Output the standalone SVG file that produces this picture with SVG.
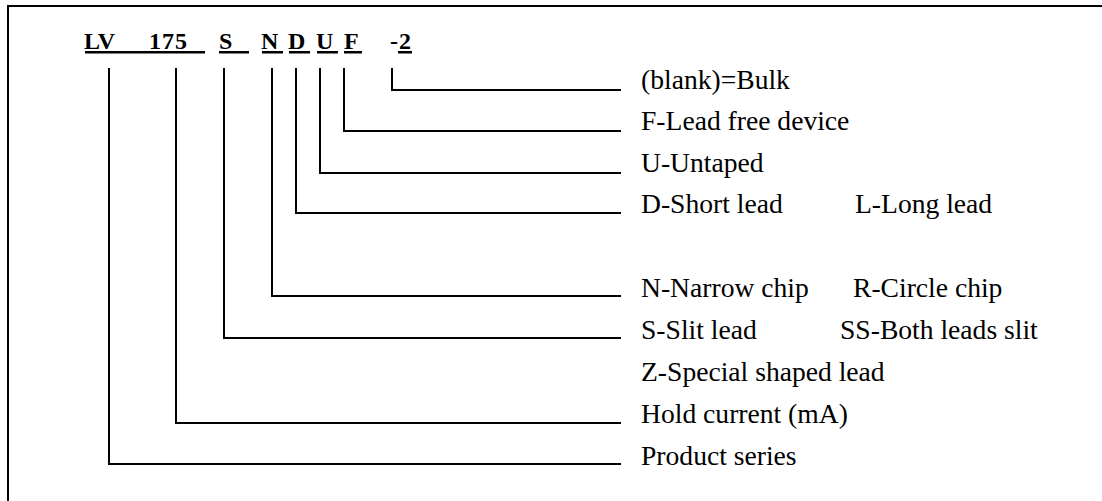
<svg xmlns="http://www.w3.org/2000/svg" width="1102" height="501" viewBox="0 0 1102 501">
<style>
.frame{fill:none;stroke:#000;stroke-width:2}
.ln{fill:none;stroke:#000;stroke-width:2}
.ul{fill:#000}
.code{font-family:'Liberation Serif',serif;font-weight:bold;font-size:24px;fill:#000}
.lbl{font-family:'Liberation Serif',serif;font-size:27.6px;fill:#000}
</style>
<rect width="1102" height="501" fill="#fff"/>
<path class="frame" d="M8,510 V6 H1110"/>
<g id="code">
<text class="code" x="84" y="49">LV</text>
<text class="code" y="49"><tspan x="149">1</tspan><tspan x="162">7</tspan><tspan x="175">5</tspan></text>
<text class="code" x="219" y="49">S</text>
<text class="code" x="261" y="49">N</text>
<text class="code" x="288" y="49">D</text>
<text class="code" x="316" y="49">U</text>
<text class="code" x="344" y="49">F</text>
<text class="code" x="390" y="49">-</text>
<text class="code" x="399" y="49">2</text>
<rect class="ul" x="85" y="51" width="120" height="2.5"/>
<rect class="ul" x="219" y="51" width="30" height="2.5"/>
<rect class="ul" x="262" y="51" width="21" height="2.5"/>
<rect class="ul" x="289" y="51" width="21" height="2.5"/>
<rect class="ul" x="317" y="51" width="21" height="2.5"/>
<rect class="ul" x="344" y="51" width="18" height="2.5"/>
<rect class="ul" x="398" y="51" width="14" height="2.5"/>
</g>
<g id="connectors">
<path class="ln" d="M392,68 V90 H621"/>
<path class="ln" d="M344,68 V131 H621"/>
<path class="ln" d="M320,68 V173 H621"/>
<path class="ln" d="M296,68 V213 H621"/>
<path class="ln" d="M272,68 V296 H621"/>
<path class="ln" d="M224,68 V338 H621"/>
<path class="ln" d="M176,68 V423 H621"/>
<path class="ln" d="M109,68 V464 H621"/>
</g>
<g id="labels">
<text class="lbl" x="641" y="89">(blank)=Bulk</text>
<text class="lbl" x="641" y="130">F-Lead free device</text>
<text class="lbl" x="641" y="172">U-Untaped</text>
<text class="lbl" x="641" y="213">D-Short lead</text>
<text class="lbl" x="855" y="213">L-Long lead</text>
<text class="lbl" x="641" y="297">N-Narrow chip</text>
<text class="lbl" x="853" y="297">R-Circle chip</text>
<text class="lbl" x="641" y="339">S-Slit lead</text>
<text class="lbl" x="840" y="339">SS-Both leads slit</text>
<text class="lbl" x="641" y="381">Z-Special shaped lead</text>
<text class="lbl" x="641" y="423">Hold current (mA)</text>
<text class="lbl" x="641" y="465">Product series</text>
</g>
</svg>
